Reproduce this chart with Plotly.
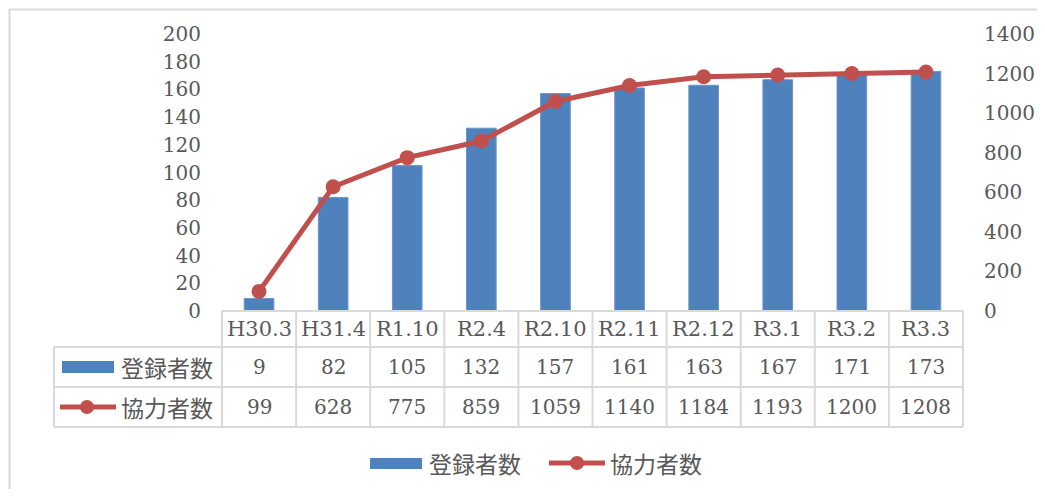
import plotly.graph_objects as go

categories = ["H30.3", "H31.4", "R1.10", "R2.4", "R2.10", "R2.11", "R2.12", "R3.1", "R3.2", "R3.3"]
registered = [9, 82, 105, 132, 157, 161, 163, 167, 171, 173]
cooperators = [99, 628, 775, 859, 1059, 1140, 1184, 1193, 1200, 1208]
name_reg = "登録者数"
name_coop = "協力者数"

OFF = 8  # page body margin
W, H = 1045 - 2 * OFF, 497 - 2 * OFF
L, R, T, B = 222 - OFF, 963 - OFF, 34 - OFF, 311 - OFF
BLUE = "#4F81BD"
RED = "#C0504D"
GRID = "#D9D9D9"
TXT = "#595959"
SERIF = "DejaVu Serif"
JP = "Noto Sans CJK JP"


def px(x):
    return (x - OFF - L) / (R - L)


def py(y):
    return (B - (y - OFF)) / (B - T)


fig = go.Figure()
fig.add_trace(go.Bar(x=categories, y=registered, name=name_reg,
                     marker=dict(color=BLUE, line=dict(color="#6C95C8", width=1)),
                     yaxis="y", showlegend=False))
fig.add_trace(go.Scatter(x=categories, y=cooperators, name=name_coop, mode="lines+markers",
                         line=dict(color=RED, width=5), marker=dict(color=RED, size=15),
                         yaxis="y2", showlegend=False))

shapes = []
ann = []
line_style = dict(color=GRID, width=2)

# outer chart border (top & left visible)
shapes.append(dict(type="rect", xref="paper", yref="paper", x0=px(9.5), x1=px(1100), y0=py(540), y1=py(9.5),
                   line=dict(color=GRID, width=2), layer="below"))

# table horizontal lines
rows_y = [311, 347, 387, 427]
for i, yy in enumerate(rows_y):
    x0 = 222 if i == 0 else 54
    shapes.append(dict(type="line", xref="paper", yref="paper", x0=px(x0), x1=px(963), y0=py(yy), y1=py(yy),
                       line=line_style))
# vertical lines
shapes.append(dict(type="line", xref="paper", yref="paper", x0=px(54), x1=px(54), y0=py(347), y1=py(427),
                   line=line_style))
n = len(categories)
for k in range(n + 1):
    xx = 222 + (963 - 222) * k / n
    shapes.append(dict(type="line", xref="paper", yref="paper", x0=px(xx), x1=px(xx), y0=py(311), y1=py(427),
                       line=line_style))

# table text
centers = [329, 367, 407]
for i, c in enumerate(categories):
    for row, txt in enumerate([c, str(registered[i]), str(cooperators[i])]):
        ann.append(dict(x=c, xref="x", y=py(centers[row]), yref="paper", text=txt, showarrow=False,
                        xanchor="center", yanchor="middle",
                        font=dict(family=SERIF, size=21 if row == 0 else 20, color=TXT)))

# table row keys
shapes.append(dict(type="rect", xref="paper", yref="paper", x0=px(62), x1=px(114), y0=py(373), y1=py(361),
                   fillcolor=BLUE, line=dict(width=0)))
shapes.append(dict(type="line", xref="paper", yref="paper", x0=px(60), x1=px(116), y0=py(407), y1=py(407),
                   line=dict(color=RED, width=5)))
shapes.append(dict(type="circle", xref="paper", yref="paper", x0=px(80), x1=px(94), y0=py(414), y1=py(400),
                   fillcolor=RED, line=dict(width=0)))
ann.append(dict(x=px(119), xref="paper", y=py(centers[1]), yref="paper", text=name_reg, showarrow=False,
                xanchor="left", yanchor="middle", font=dict(family=JP, size=23, color=TXT)))
ann.append(dict(x=px(119), xref="paper", y=py(centers[2]), yref="paper", text=name_coop, showarrow=False,
                xanchor="left", yanchor="middle", font=dict(family=JP, size=23, color=TXT)))

# bottom legend
ly = 463
shapes.append(dict(type="rect", xref="paper", yref="paper", x0=px(370), x1=px(422), y0=py(469), y1=py(458),
                   fillcolor=BLUE, line=dict(width=0)))
shapes.append(dict(type="line", xref="paper", yref="paper", x0=px(549), x1=px(605), y0=py(ly), y1=py(ly),
                   line=dict(color=RED, width=5)))
shapes.append(dict(type="circle", xref="paper", yref="paper", x0=px(570), x1=px(584), y0=py(ly + 7),
                   y1=py(ly - 7), fillcolor=RED, line=dict(width=0)))
ann.append(dict(x=px(427), xref="paper", y=py(ly), yref="paper", text=name_reg, showarrow=False,
                xanchor="left", yanchor="middle", font=dict(family=JP, size=23, color=TXT)))
ann.append(dict(x=px(608), xref="paper", y=py(ly), yref="paper", text=name_coop, showarrow=False,
                xanchor="left", yanchor="middle", font=dict(family=JP, size=23, color=TXT)))

fig.update_layout(
    width=W, height=H,
    margin=dict(l=L, r=W - R, t=T, b=H - B, pad=0, autoexpand=False),
    paper_bgcolor="white", plot_bgcolor="white",
    bargap=0.6,
    showlegend=False,
    xaxis=dict(type="category", showticklabels=False, showgrid=False, zeroline=False, showline=False,
               range=[-0.5, n - 0.5], automargin=False),
    yaxis=dict(range=[0, 200], dtick=20, showgrid=False, zeroline=False, showline=False, ticks="",
               automargin=False, ticklabelstandoff=20, tickfont=dict(family=SERIF, size=20, color=TXT)),
    yaxis2=dict(range=[0, 1400], dtick=200, overlaying="y", side="right", showgrid=False, zeroline=False,
                showline=False, ticks="", automargin=False, ticklabelstandoff=20,
                tickfont=dict(family=SERIF, size=20, color=TXT)),
    shapes=shapes,
    annotations=ann,
)

fig.write_html("out.html")
